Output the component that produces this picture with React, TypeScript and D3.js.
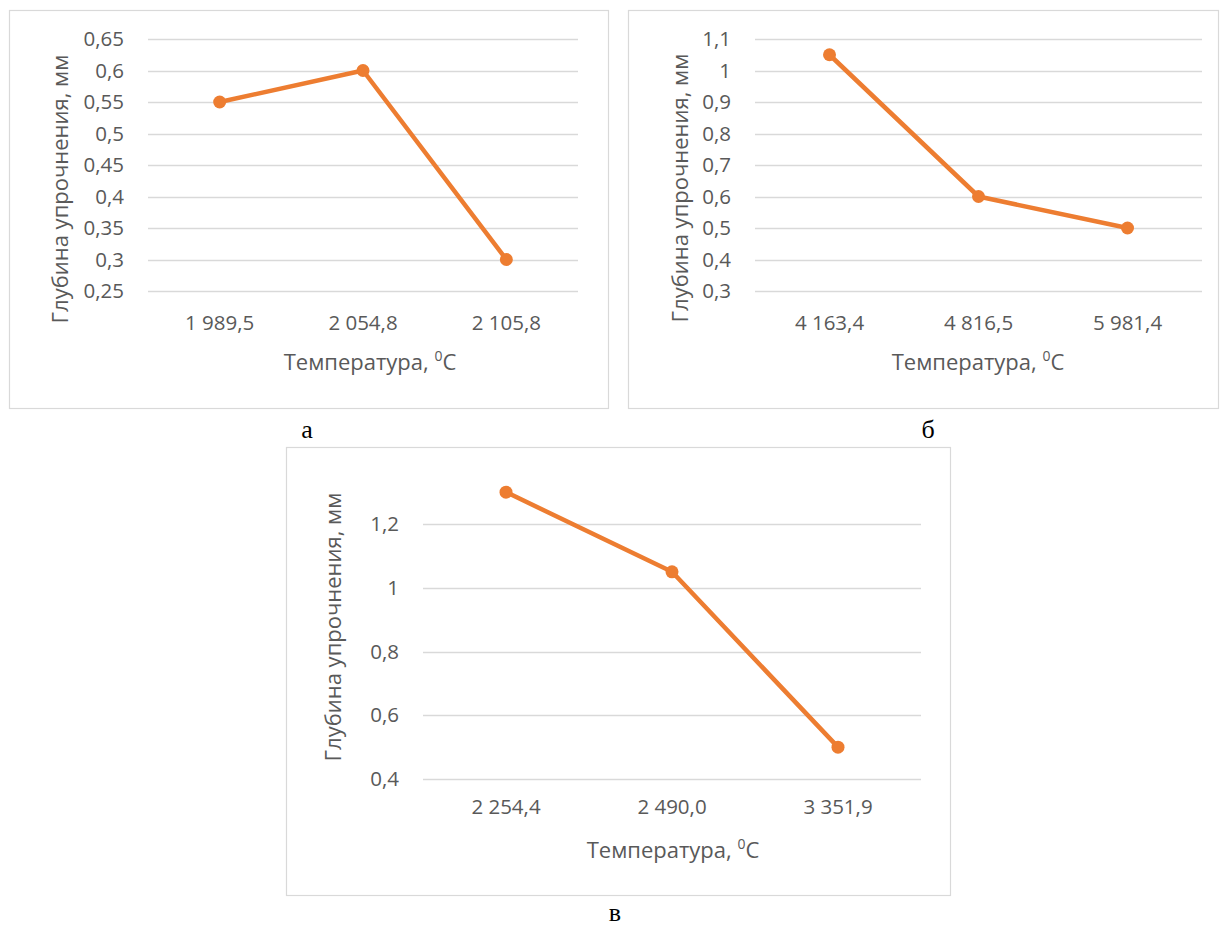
import React from "react";
import * as d3 from "d3";

// panel а
const catsA = ["1 989,5", "2 054,8", "2 105,8"];
const valsA = [0.55, 0.6, 0.3];
const ticksA = [0.25, 0.3, 0.35, 0.4, 0.45, 0.5, 0.55, 0.6, 0.65];

// panel б
const catsB = ["4 163,4", "4 816,5", "5 981,4"];
const valsB = [1.05, 0.6, 0.5];
const ticksB = [0.3, 0.4, 0.5, 0.6, 0.7, 0.8, 0.9, 1, 1.1];

// panel в
const catsC = ["2 254,4", "2 490,0", "3 351,9"];
const valsC = [1.3, 1.05, 0.5];
const ticksC = [0.4, 0.6, 0.8, 1, 1.2];

const Y_TITLE = "Глубина упрочнения, мм";
const X_TITLE = "Температура, ";

const ORANGE = "#ED7D31";
const GRID = "#d9d9d9";
const TEXT = "#595959";
const FONT = "'Open Sans', 'Noto Sans', sans-serif";

const fmt = (v: number) => String(+v.toFixed(2)).replace(".", ",");

type PanelProps = {
  cats: string[];
  vals: number[];
  ticks: number[];
  frame: { x: number; y: number; w: number; h: number };
  plot: { left: number; right: number; top: number; bottom: number };
  yTitle: { x: number; y: number };
  xLabelY: number;
  xTitle: { x: number; y: number };
  letter: { text: string; x: number; y: number };
};

function Panel(p: PanelProps) {
  const x = d3
    .scaleBand()
    .domain(p.cats)
    .range([p.plot.left, p.plot.right]);
  const y = d3
    .scaleLinear()
    .domain([p.ticks[0], p.ticks[p.ticks.length - 1]])
    .range([p.plot.bottom, p.plot.top]);
  const cx = (c: string) => (x(c) || 0) + x.bandwidth() / 2;
  const line = d3
    .line<number>()
    .x((_, i) => cx(p.cats[i]))
    .y((d) => y(d));

  return (
    <g>
      <rect
        x={p.frame.x + 0.5}
        y={p.frame.y + 0.5}
        width={p.frame.w}
        height={p.frame.h}
        fill="white"
        stroke={GRID}
        strokeWidth={1.2}
      />
      {p.ticks.map((t) => (
        <g key={t}>
          <line
            x1={p.plot.left}
            x2={p.plot.right}
            y1={Math.round(y(t)) + 0.5}
            y2={Math.round(y(t)) + 0.5}
            stroke={GRID}
            strokeWidth={1.3}
          />
          <text
            x={p.plot.left - 24}
            y={y(t)}
            dy="0.35em"
            textAnchor="end"
            fontSize={20.5}
            fill={TEXT}
            fontFamily={FONT}
          >
            {fmt(t)}
          </text>
        </g>
      ))}
      {p.cats.map((c) => (
        <text
          key={c}
          x={cx(c)}
          y={p.xLabelY}
          dy="0.35em"
          textAnchor="middle"
          fontSize={20.5}
          fill={TEXT}
          fontFamily={FONT}
        >
          {c}
        </text>
      ))}
      <path
        d={line(p.vals) || ""}
        fill="none"
        stroke={ORANGE}
        strokeWidth={4.5}
        strokeLinejoin="round"
      />
      {p.vals.map((v, i) => (
        <circle key={i} cx={cx(p.cats[i])} cy={y(v)} r={6.5} fill={ORANGE} />
      ))}
      <text
        transform={`translate(${p.yTitle.x},${p.yTitle.y}) rotate(-90)`}
        dy="0.35em"
        textAnchor="middle"
        fontSize={22}
        fill={TEXT}
        fontFamily={FONT}
      >
        {Y_TITLE}
      </text>
      <text
        x={p.xTitle.x}
        y={p.xTitle.y}
        dy="0.35em"
        textAnchor="middle"
        fontSize={22}
        fill={TEXT}
        fontFamily={FONT}
      >
        {X_TITLE}
        <tspan fontSize={14} dy="-0.6em">
          0
        </tspan>
        <tspan dy="0.4em">C</tspan>
      </text>
      <text
        x={p.letter.x}
        y={p.letter.y}
        textAnchor="middle"
        fontSize={26}
        fill="#000"
        fontFamily="'Liberation Serif', 'DejaVu Serif', serif"
      >
        {p.letter.text}
      </text>
    </g>
  );
}

export default function App() {
  return (
    <div style={{ position: "absolute", left: 0, top: 0 }}>
      <svg width={1221} height={928} style={{ display: "block", background: "white" }}>
        <Panel
          cats={catsA}
          vals={valsA}
          ticks={ticksA}
          frame={{ x: 9, y: 10, w: 599, h: 398 }}
          plot={{ left: 148, right: 578, top: 39, bottom: 291 }}
          yTitle={{ x: 60, y: 189 }}
          xLabelY={323}
          xTitle={{ x: 370, y: 362 }}
          letter={{ text: "а", x: 307, y: 438 }}
        />
        <Panel
          cats={catsB}
          vals={valsB}
          ticks={ticksB}
          frame={{ x: 628, y: 10, w: 590, h: 398 }}
          plot={{ left: 755, right: 1202, top: 39, bottom: 291 }}
          yTitle={{ x: 680, y: 188 }}
          xLabelY={323}
          xTitle={{ x: 978, y: 362 }}
          letter={{ text: "б", x: 928, y: 438 }}
        />
        <Panel
          cats={catsC}
          vals={valsC}
          ticks={ticksC}
          frame={{ x: 286, y: 447, w: 664, h: 448 }}
          plot={{ left: 423, right: 921, top: 524, bottom: 779 }}
          yTitle={{ x: 333, y: 627 }}
          xLabelY={807}
          xTitle={{ x: 673, y: 850 }}
          letter={{ text: "в", x: 615, y: 921 }}
        />
      </svg>
    </div>
  );
}
